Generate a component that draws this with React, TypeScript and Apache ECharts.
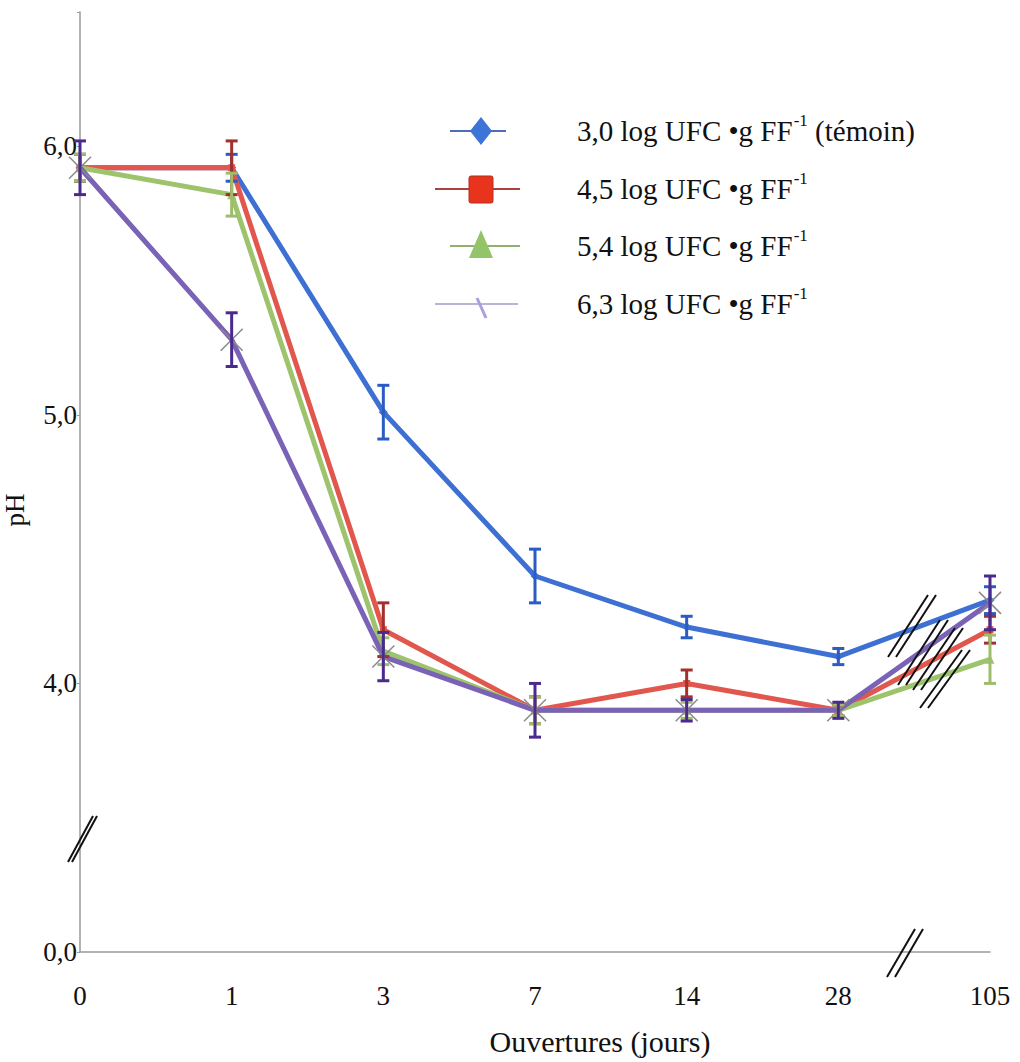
import React, { useEffect, useRef } from "react";
import * as echarts from "echarts";

const categories = ["0", "1", "3", "7", "14", "28", "105"];
const seriesNames = [
  "3,0 log UFC •g FF-1 (témoin)",
  "4,5 log UFC •g FF-1",
  "5,4 log UFC •g FF-1",
  "6,3 log UFC •g FF-1",
];
const blueValues = [5.92, 5.92, 5.01, 4.4, 4.21, 4.1, 4.31];
const redValues = [5.92, 5.92, 4.2, 3.9, 4.0, 3.9, 4.2];
const greenValues = [5.92, 5.82, 4.12, 3.9, 3.9, 3.9, 4.09];
const purpleValues = [5.92, 5.28, 4.1, 3.9, 3.9, 3.9, 4.3];

const blueErr = [0.05, 0.05, 0.1, 0.1, 0.04, 0.03, 0.05];
const redErr = [0.05, 0.1, 0.1, 0.05, 0.05, 0.02, 0.05];
const greenErr = [0.05, 0.08, 0.05, 0.05, 0.03, 0.02, 0.09];
const purpleErr = [0.1, 0.1, 0.09, 0.1, 0.04, 0.03, 0.1];

const yTicks = [3, 4, 5, 6];
const yTickLabels = ["0,0", "4,0", "5,0", "6,0"];

const lineColors = ["#3d70d2", "#e2574d", "#9dc46d", "#7a62b6"];
const errColors = ["#2a5cc4", "#a2302c", "#9dbd6a", "#4a2a8c"];
const legendMarkColors = ["#3d74d8", "#e8341c", "#94c46a", "#a89ee0"];
const legendLineColors = ["#4a6fb8", "#a8443c", "#8fb070", "#b8b4d8"];
const symbols = ["diamond", "rect", "triangle", "path://M0,0L10,10M10,0L0,10"];
const symbolSizes = [9, 7, 9, 22];

const FONT = "Liberation Serif";

function measure(text: string, size: number) {
  const c = document.createElement("canvas").getContext("2d");
  if (!c) return text.length * size * 0.5;
  c.font = size + "px " + FONT;
  return c.measureText(text).width;
}

export default function App() {
  const ref = useRef<HTMLDivElement>(null);
  useEffect(() => {
    if (!ref.current) return;
    const chart = echarts.init(ref.current, null, { renderer: "svg" });
    const values = [blueValues, redValues, greenValues, purpleValues];
    const errs = [blueErr, redErr, greenErr, purpleErr];

    const lineSeries = values.map((vals, k) => ({
      type: "line",
      name: seriesNames[k],
      data: vals,
      symbol: symbols[k],
      symbolSize: symbolSizes[k],
      showAllSymbol: true,
      z: 3 + k,
      lineStyle: { color: lineColors[k], width: 5 },
      itemStyle:
        k === 3
          ? { color: "#8a8a8a", borderColor: "#8a8a8a", borderWidth: 1.5 }
          : { color: lineColors[k] },
    }));

    const errSeries = values.map((vals, k) => ({
      type: "custom",
      name: "err" + k,
      z: 10 + k,
      data: vals.map((v, i) => [i, v - errs[k][i], v + errs[k][i]]),
      encode: { x: 0, y: [1, 2] },
      renderItem: (params: any, api: any) => {
        const x = api.value(0);
        const lo = api.coord([x, api.value(1)]);
        const hi = api.coord([x, api.value(2)]);
        const hw = 6;
        const style = { stroke: errColors[k], lineWidth: 3 };
        return {
          type: "group",
          children: [
            { type: "line", shape: { x1: lo[0], y1: lo[1], x2: hi[0], y2: hi[1] }, style },
            { type: "line", shape: { x1: hi[0] - hw, y1: hi[1], x2: hi[0] + hw, y2: hi[1] }, style },
            { type: "line", shape: { x1: lo[0] - hw, y1: lo[1], x2: lo[0] + hw, y2: lo[1] }, style },
          ],
        };
      },
    }));

    const brk = (x1: number, y1: number, x2: number, y2: number) => ({
      type: "line",
      shape: { x1, y1, x2, y2 },
      style: { stroke: "#111", lineWidth: 2 },
      z: 100,
    });
    const pair = (x1: number, y1: number, x2: number, y2: number, d: number) => [
      brk(x1, y1, x2, y2),
      brk(x1 + d, y1, x2 + d, y2),
    ];

    // legend drawn with graphic elements
    const rowY = [131, 189, 246, 304];
    const lineSpans = [
      [450, 506],
      [435, 520],
      [450, 520],
      [435, 518],
    ];
    const cx = 481;
    const textX = 577;
    const fs = 29;
    const legend: any[] = [];
    seriesNames.forEach((name, k) => {
      const y = rowY[k];
      legend.push({
        type: "line",
        shape: { x1: lineSpans[k][0], y1: y, x2: lineSpans[k][1], y2: y },
        style: { stroke: legendLineColors[k], lineWidth: 2 },
      });
      const mc = legendMarkColors[k];
      if (k === 0) {
        legend.push({
          type: "polygon",
          shape: { points: [[cx, y - 14], [cx + 11, y], [cx, y + 14], [cx - 11, y]] },
          style: { fill: mc },
        });
      } else if (k === 1) {
        legend.push({
          type: "rect",
          shape: { x: cx - 12, y: y - 13, width: 24, height: 27, r: 2 },
          style: { fill: mc, stroke: "#b0301c", lineWidth: 1 },
        });
      } else if (k === 2) {
        legend.push({
          type: "polygon",
          shape: { points: [[cx, y - 16], [cx + 12, y + 12], [cx - 12, y + 12]] },
          style: { fill: mc },
        });
      } else {
        legend.push({
          type: "line",
          shape: { x1: cx - 4, y1: y - 6, x2: cx + 5, y2: y + 14 },
          style: { stroke: mc, lineWidth: 3 },
        });
      }
      const parts = name.split("-1");
      const w0 = measure(parts[0], fs);
      legend.push({
        type: "text",
        x: textX,
        y: y,
        style: { text: parts[0], fontFamily: FONT, fontSize: fs, fill: "#111", verticalAlign: "middle" },
      });
      legend.push({
        type: "text",
        x: textX + w0 + 1,
        y: y - 11,
        style: { text: "-1", fontFamily: FONT, fontSize: 17, fill: "#111", verticalAlign: "middle" },
      });
      if (parts[1]) {
        const w1 = measure("-1", 17);
        legend.push({
          type: "text",
          x: textX + w0 + w1 + 1,
          y: y,
          style: { text: parts[1], fontFamily: FONT, fontSize: fs, fill: "#111", verticalAlign: "middle" },
        });
      }
    });

    chart.setOption({
      animation: false,
      backgroundColor: "#ffffff",
      textStyle: { fontFamily: FONT },
      grid: { left: 80, right: 30, top: 12, bottom: 110, outerBoundsMode: "none", containLabel: false },
      xAxis: {
        type: "category",
        data: categories,
        boundaryGap: false,
        name: "Ouvertures (jours)",
        nameLocation: "middle",
        nameGap: 74,
        nameTextStyle: { fontFamily: FONT, fontSize: 30, color: "#111", padding: [0, 0, 0, 130] },
        axisLine: { lineStyle: { color: "#9a9a9a", width: 1.5 } },
        axisTick: { show: false },
        axisLabel: { fontFamily: FONT, fontSize: 27, color: "#111", margin: 30 },
        splitLine: { show: false },
      },
      yAxis: {
        type: "value",
        min: 3,
        max: 6.5,
        interval: 1,
        name: "pH",
        nameLocation: "middle",
        nameGap: 52,
        nameRotate: 90,
        nameTextStyle: { fontFamily: FONT, fontSize: 27, color: "#111", padding: [0, 56, 0, 0] },
        axisLine: { show: true, lineStyle: { color: "#9a9a9a", width: 1.5 } },
        axisTick: { show: true, length: 3, lineStyle: { color: "#9a9a9a" } },
        splitLine: { show: false },
        axisLabel: {
          fontFamily: FONT,
          fontSize: 27,
          color: "#111",
          margin: 3,
          formatter: (v: number) => {
            const i = yTicks.indexOf(v);
            return i >= 0 ? yTickLabels[i] : "";
          },
        },
      },
      graphic: [
        ...legend,
        ...pair(68, 862, 93, 816, 4),
        ...pair(887, 977, 915, 929, 8),
        ...pair(888, 657, 928, 595, 8),
        ...pair(898, 685, 940, 620, 8),
        ...pair(913, 690, 955, 628, 8),
        ...pair(920, 708, 962, 650, 8),
      ],
      series: [...lineSeries, ...errSeries],
    });
    return () => chart.dispose();
  }, []);
  return <div ref={ref} style={{ width: 1020, height: 1062, position: "absolute", left: 0, top: 0 }} />;
}
